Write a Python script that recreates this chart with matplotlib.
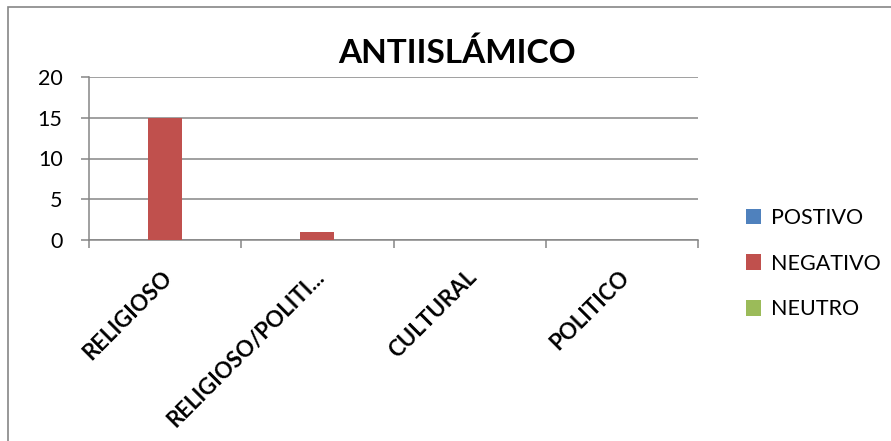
import numpy as np
import matplotlib
matplotlib.use("Agg")
import matplotlib.pyplot as plt
from matplotlib.patches import Rectangle
from matplotlib import transforms

plt.rcParams.update({"font.family": ["Lato", "DejaVu Sans"], "font.size": 15})

# data
categories = ["RELIGIOSO", "RELIGIOSO/POLITI...", "CULTURAL", "POLITICO"]
series_names = ["POSTIVO", "NEGATIVO", "NEUTRO"]
postivo = [0, 0, 0, 0]
negativo = [15, 1, 0, 0]
neutro = [0, 0, 0, 0]
title = "ANTIISLÁMICO"

COLORS = ["#4F81BD", "#C0504D", "#9BBB59"]
GRID = "#868686"
W, H = 891, 441

fig = plt.figure(figsize=(W / 100, H / 100), dpi=100)
# plot area in pixel coords: left 89, right 698, top 77, bottom 240
ax = fig.add_axes([89 / W, 1 - 240 / H, (698 - 89) / W, (240 - 77) / H])

x = np.arange(len(categories))
bw = 1 / 4.5
for k, (vals, c, name) in enumerate(zip([postivo, negativo, neutro], COLORS, series_names)):
    ax.bar(x + (k - 1) * bw, vals, width=bw, color=c, label=name, zorder=3)

ax.set_xlim(-0.5, len(categories) - 0.5)
ax.set_ylim(0, 20)
ax.set_yticks([0, 5, 10, 15, 20])
ax.yaxis.grid(True, color=GRID, lw=1.1, zorder=0)
ax.tick_params(axis="y", length=6, width=1.1, color=GRID, pad=13, labelsize=15.5)
ax.set_xticks(np.arange(-0.5, len(categories)), minor=True)
ax.set_xticks(x)
ax.set_xticklabels([])
ax.tick_params(axis="x", which="major", length=0)
ax.tick_params(axis="x", which="minor", length=6, width=1.1, color=GRID)
for sp in ("top", "right"):
    ax.spines[sp].set_visible(False)
for sp in ("left", "bottom"):
    ax.spines[sp].set_color(GRID)
    ax.spines[sp].set_linewidth(1.1)

# rotated category labels, ends near the category centres below the axis
off = transforms.ScaledTranslation(4 / 100, -34 / 100, fig.dpi_scale_trans)
trans = ax.get_xaxis_transform() + off
for xi, lab in zip(x, categories):
    ax.text(xi, 0, lab, transform=trans, rotation=45, rotation_mode="anchor",
            ha="right", va="center", fontsize=16, fontweight="bold")

fig.text(457 / W, 1 - 63 / H, title, ha="center", va="baseline",
         fontsize=24, fontweight="bold")

leg = fig.legend(loc="upper left", bbox_to_anchor=(735 / W, 1 - 197 / H),
                 frameon=False, fontsize=15.5, handlelength=0.72, handleheight=0.72,
                 handletextpad=0.45, labelspacing=1.2, borderpad=0)

fig.patches.append(Rectangle((7.5 / W, -0.1), 2, 1.1 - 7.5 / H,
                             transform=fig.transFigure, fill=False,
                             edgecolor=GRID, lw=1.2))

fig.savefig("out.png", dpi=100)
